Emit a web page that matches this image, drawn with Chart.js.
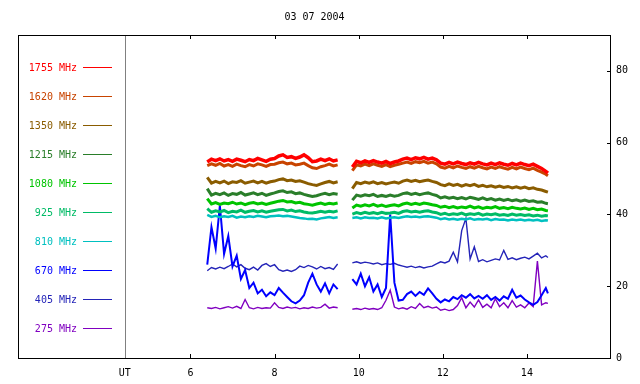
<!DOCTYPE html>
<html>
<head>
<meta charset="utf-8">
<script src="https://cdn.jsdelivr.net/npm/chart.js@4/dist/chart.umd.min.js"></script>
<style>
html,body{margin:0;padding:0;background:#fff;}
#wrap{width:640px;height:384px;position:relative;}
</style>
</head>
<body>
<div id="wrap"><canvas id="c" width="640" height="384"></canvas></div>
<script>
const titleText = '03 07 2004';
const times = [6.4,6.5,6.6,6.7,6.8,6.9,7.0,7.1,7.2,7.3,7.4,7.5,7.6,7.7,7.8,7.9,8.0,8.1,8.2,8.3,8.4,8.5,8.6,8.7,8.8,8.9,9.0,9.1,9.2,9.3,9.4,9.5,
  9.67,
  9.85,9.95,10.05,10.15,10.25,10.35,10.45,10.55,10.65,10.75,10.85,10.95,11.05,11.15,11.25,11.35,11.45,11.55,11.65,11.75,11.85,11.95,12.05,12.15,12.25,12.35,12.45,12.55,12.65,12.75,12.85,12.95,13.05,13.15,13.25,13.35,13.45,13.55,13.65,13.75,13.85,13.95,14.05,14.15,14.25,14.35,14.45,14.5];
const xTicks = [6, 8, 10, 12, 14];
const utLabel = 'UT';
const utPos = 4.44;
const yTicks = [0, 20, 40, 60, 80];
const labels = ['1755 MHz','1620 MHz','1350 MHz','1215 MHz','1080 MHz','925 MHz','810 MHz','670 MHz','405 MHz','275 MHz'];
const colors = ['#ff0000','#c84400','#8a5c00','#2a7e2a','#00c400','#00bb66','#00c0c0','#0000ff','#2424b8','#8000c0'];

const s1755 = [54.6,55.4,55.0,55.5,54.9,55.3,54.8,55.4,55.1,54.7,55.3,55.0,55.6,55.2,54.8,55.4,55.6,56.3,56.6,55.9,56.1,55.6,56.0,56.6,55.8,54.7,54.9,55.4,55.0,55.5,54.9,55.2,
  null,
  53.2,54.8,54.4,54.9,54.5,55.0,54.6,54.3,54.8,54.2,54.6,54.9,55.4,55.7,55.3,55.8,55.5,55.9,55.4,55.7,55.2,54.3,54.0,54.5,54.1,54.6,54.2,53.9,54.4,54.0,54.5,54.1,53.8,54.3,53.9,54.4,54.0,53.7,54.2,53.8,54.3,53.9,53.6,54.0,53.4,52.8,52.0,51.5];
const s1620 = [53.6,54.1,53.7,54.2,53.5,53.9,53.4,54.0,53.6,53.3,53.9,53.5,54.1,53.8,53.4,53.9,54.0,54.4,54.6,54.1,54.3,53.8,54.0,54.3,53.6,53.0,52.8,53.3,53.6,54.0,53.5,53.8,
  null,
  52.2,53.8,53.5,54.0,53.6,54.1,53.7,53.4,53.9,53.3,53.7,54.0,54.3,54.6,54.2,54.7,54.4,54.8,54.3,54.6,54.1,53.2,52.9,53.4,53.0,53.5,53.1,52.8,53.3,52.9,53.4,53.0,52.7,53.2,52.8,53.3,52.9,52.6,53.1,52.7,53.2,52.8,52.5,52.9,52.3,51.8,51.2,50.8];
const s1350 = [50.3,48.7,49.2,48.8,49.3,48.6,49.1,48.9,49.4,48.7,49.0,49.3,48.8,49.2,48.7,49.1,49.3,49.7,49.9,49.4,49.6,49.2,49.4,49.0,48.6,48.3,48.1,48.5,48.9,49.2,48.8,49.1,
  null,
  47.2,48.9,48.6,49.0,48.7,49.1,48.6,48.9,48.5,48.8,49.0,48.7,49.3,49.6,49.2,49.5,49.1,49.4,49.6,49.2,48.9,48.3,48.0,48.5,48.1,48.4,47.9,48.3,48.0,48.4,47.8,48.1,47.7,48.0,47.6,47.9,47.5,47.8,47.4,47.7,47.3,47.6,47.2,47.4,47.0,46.8,46.4,46.2];
const s1215 = [47.2,45.4,45.9,45.5,46.0,45.3,45.8,45.6,46.1,45.4,45.7,46.0,45.5,45.9,45.3,45.7,46.0,46.4,46.6,46.1,46.3,45.8,46.0,45.6,45.3,45.0,45.2,45.6,45.9,45.5,45.8,45.6,
  null,
  44.0,45.4,45.1,45.5,45.2,45.6,45.0,45.3,45.0,45.4,45.1,45.3,45.8,46.0,45.6,45.9,45.5,45.8,46.0,45.6,45.3,44.6,44.9,44.5,44.8,44.4,44.7,44.3,44.8,44.5,44.2,44.6,44.1,44.4,44.0,44.3,43.9,44.2,43.8,44.1,43.7,44.0,43.6,43.8,43.4,43.5,43.1,43.0];
const s1080 = [44.4,42.9,43.3,42.8,43.2,43.0,43.4,42.9,43.2,42.7,43.1,43.3,42.9,43.2,42.8,43.1,43.4,43.7,43.9,43.5,43.6,43.2,43.4,43.0,42.8,42.6,42.9,43.2,42.8,43.1,42.9,43.2,
  null,
  41.8,42.6,42.3,42.7,42.4,42.8,42.3,42.6,42.2,42.5,42.7,42.4,42.9,43.2,42.8,43.1,42.8,43.2,43.0,42.7,42.5,42.0,42.3,41.9,42.2,41.8,42.1,41.9,42.3,41.8,42.1,41.7,42.0,41.8,42.2,41.7,41.9,41.6,42.0,41.7,41.5,41.8,41.4,41.7,41.3,41.5,41.1,41.0];
const s925 = [41.6,40.6,41.0,40.7,41.1,40.5,40.9,40.7,41.2,40.6,40.9,41.1,40.7,41.0,40.6,40.9,41.1,41.3,41.4,41.0,41.2,40.8,41.0,40.7,40.5,40.4,40.6,40.9,40.6,40.9,40.7,41.0,
  null,
  40.1,40.5,40.2,40.6,40.3,40.5,40.2,40.6,40.3,40.4,40.6,40.3,40.8,41.0,40.7,40.9,40.6,40.9,41.0,40.7,40.5,40.0,40.3,39.9,40.2,40.0,40.4,39.9,40.2,40.0,40.3,39.8,40.1,39.9,40.2,39.8,40.0,39.7,40.1,39.8,40.0,39.7,39.9,39.6,39.8,39.5,39.7,39.6];
const s810 = [39.9,39.3,39.6,39.2,39.5,39.3,39.6,39.1,39.4,39.2,39.5,39.3,39.6,39.4,39.2,39.5,39.6,39.7,39.5,39.6,39.4,39.2,39.0,38.9,38.7,38.8,38.6,38.9,39.1,39.3,39.0,39.2,
  null,
  39.0,39.2,38.9,39.2,39.0,39.1,38.9,39.2,38.9,39.1,39.2,39.0,39.3,39.5,39.3,39.4,39.2,39.4,39.5,39.3,39.1,38.7,38.9,38.6,38.8,38.5,38.8,38.6,38.9,38.5,38.7,38.6,38.8,38.4,38.7,38.5,38.6,38.3,38.6,38.4,38.6,38.3,38.5,38.3,38.5,38.2,38.4,38.3];
const s670 = [26.0,36.5,30.5,42.5,29.0,34.0,25.5,28.5,22.0,24.5,19.5,21.0,18.0,19.0,17.2,18.3,17.5,19.5,18.2,17.0,15.8,15.2,16.0,17.5,21.0,23.5,20.5,18.5,20.8,18.0,20.5,19.2,
  null,
  22.0,20.5,23.5,20.0,22.5,18.5,20.5,17.0,19.5,40.0,21.0,16.0,16.2,17.8,18.5,17.3,18.4,17.6,19.4,18.0,16.5,15.5,16.3,15.8,17.0,16.4,17.5,16.8,17.8,16.6,17.3,16.5,17.5,16.2,17.0,16.0,17.2,16.5,19.0,16.8,17.4,16.3,15.5,14.8,15.6,17.5,19.5,18.0];
const s405 = [24.3,25.2,24.8,25.3,24.9,25.5,26.2,25.4,26.0,25.0,24.6,25.3,24.5,25.8,26.3,25.5,26.0,24.6,24.2,24.5,24.1,24.6,25.6,25.2,25.8,25.4,24.8,25.5,24.9,25.2,24.7,26.2,
  null,
  26.5,26.8,26.4,26.7,26.5,26.2,26.5,26.0,26.3,26.1,26.4,25.9,25.6,25.3,25.6,25.2,25.5,25.1,25.4,25.6,26.2,26.8,26.5,27.0,29.5,26.8,35.5,38.9,27.6,31.0,26.9,27.4,26.8,27.2,27.6,27.3,30.0,27.5,27.9,27.4,27.8,28.1,27.6,28.4,29.2,27.9,28.5,28.0];
const s275 = [14.0,13.8,14.1,13.7,14.0,14.3,13.9,14.4,13.8,16.3,14.0,13.7,14.1,13.8,14.0,13.9,15.4,14.1,13.8,14.2,13.9,14.1,13.7,14.0,13.8,14.2,13.9,14.1,15.0,13.9,14.2,14.0,
  null,
  13.6,13.8,13.5,13.9,13.6,13.8,13.5,14.0,16.1,18.9,14.2,13.7,14.0,13.6,14.3,13.8,15.2,14.0,14.4,13.9,14.2,13.3,13.6,13.2,13.5,14.6,16.8,14.0,15.6,14.2,16.2,14.1,15.0,14.0,16.5,14.3,15.4,14.0,16.0,14.2,14.8,14.0,15.3,14.3,27.0,14.8,15.4,15.2];

const series = [s1755, s1620, s1350, s1215, s1080, s925, s810, s670, s405, s275];
const widths = [3.5, 3, 3, 3, 3, 3, 2.5, 2, 1.4, 1.4];
const FONT = '10px "DejaVu Sans Mono", monospace';

const datasets = series.map((vals, k) => ({
  label: labels[k],
  data: times.map((t, i) => ({x: t, y: vals[i]})),
  borderColor: colors[k],
  backgroundColor: colors[k],
  borderWidth: widths[k],
  borderJoinStyle: 'miter',
  pointRadius: 0,
  tension: 0,
  spanGaps: false,
  fill: false
}));

const framePlugin = {
  id: 'frame',
  beforeDatasetsDraw(chart) {
    const ctx = chart.ctx, a = chart.chartArea, xs = chart.scales.x;
    const ux = Math.round(xs.getPixelForValue(utPos)) + 0.5;
    ctx.save();
    ctx.strokeStyle = '#808080';
    ctx.lineWidth = 1;
    ctx.beginPath();
    ctx.moveTo(ux, a.top);
    ctx.lineTo(ux, a.bottom);
    ctx.stroke();
    ctx.restore();
  },
  afterDraw(chart) {
    const ctx = chart.ctx, a = chart.chartArea, xs = chart.scales.x, ys = chart.scales.y;
    ctx.save();
    ctx.strokeStyle = '#000';
    ctx.lineWidth = 1;
    ctx.strokeRect(Math.round(a.left) + 0.5, Math.round(a.top) + 0.5, Math.round(a.right - a.left) - 1, Math.round(a.bottom - a.top));
    ctx.beginPath();
    xTicks.forEach(v => {
      const px = Math.round(xs.getPixelForValue(v)) + 0.5;
      ctx.moveTo(px, a.bottom); ctx.lineTo(px, a.bottom - 4);
      ctx.moveTo(px, a.top); ctx.lineTo(px, a.top + 4);
    });
    yTicks.forEach(v => {
      const py = Math.round(ys.getPixelForValue(v)) + 0.5;
      ctx.moveTo(a.right, py); ctx.lineTo(a.right - 4, py);
    });
    ctx.stroke();
    ctx.fillStyle = '#000';
    ctx.font = FONT;
    ctx.textAlign = 'center';
    ctx.textBaseline = 'middle';
    ctx.fillText(titleText, (a.left + a.right) / 2, 17);
    chart.data.datasets.forEach((ds, k) => {
      const y = 68 + 29 * k;
      ctx.fillStyle = ds.borderColor;
      ctx.textAlign = 'right';
      ctx.fillText(ds.label, 77, y);
      ctx.strokeStyle = ds.borderColor;
      ctx.lineWidth = 1;
      ctx.beginPath();
      ctx.moveTo(83, y - 0.5);
      ctx.lineTo(112, y - 0.5);
      ctx.stroke();
    });
    ctx.restore();
  }
};

new Chart(document.getElementById('c'), {
  type: 'line',
  data: { datasets },
  options: {
    responsive: false,
    animation: false,
    layout: { padding: { left: 18, top: 35, right: 0, bottom: 0 } },
    plugins: { legend: { display: false }, title: { display: false }, tooltip: { enabled: false } },
    scales: {
      x: {
        type: 'linear',
        min: 1.9,
        max: 16,
        afterBuildTicks: s => { s.ticks = [{value: utPos}].concat(xTicks.map(v => ({value: v}))); },
        afterFit: s => { s.height = 26; },
        grid: { display: false, drawTicks: false },
        border: { display: false },
        ticks: {
          color: '#000', font: { family: 'DejaVu Sans Mono', size: 10 }, padding: 9,
          maxRotation: 0, autoSkip: false,
          callback: v => (v === utPos ? utLabel : String(v))
        }
      },
      y: {
        type: 'linear',
        position: 'right',
        min: 0,
        max: 90,
        afterBuildTicks: s => { s.ticks = yTicks.map(v => ({value: v})); },
        afterFit: s => { s.width = 29; },
        grid: { display: false, drawTicks: false },
        border: { display: false },
        ticks: { color: '#000', font: { family: 'DejaVu Sans Mono', size: 10 }, padding: 5 }
      }
    }
  },
  plugins: [framePlugin]
});
</script>
</body>
</html>
